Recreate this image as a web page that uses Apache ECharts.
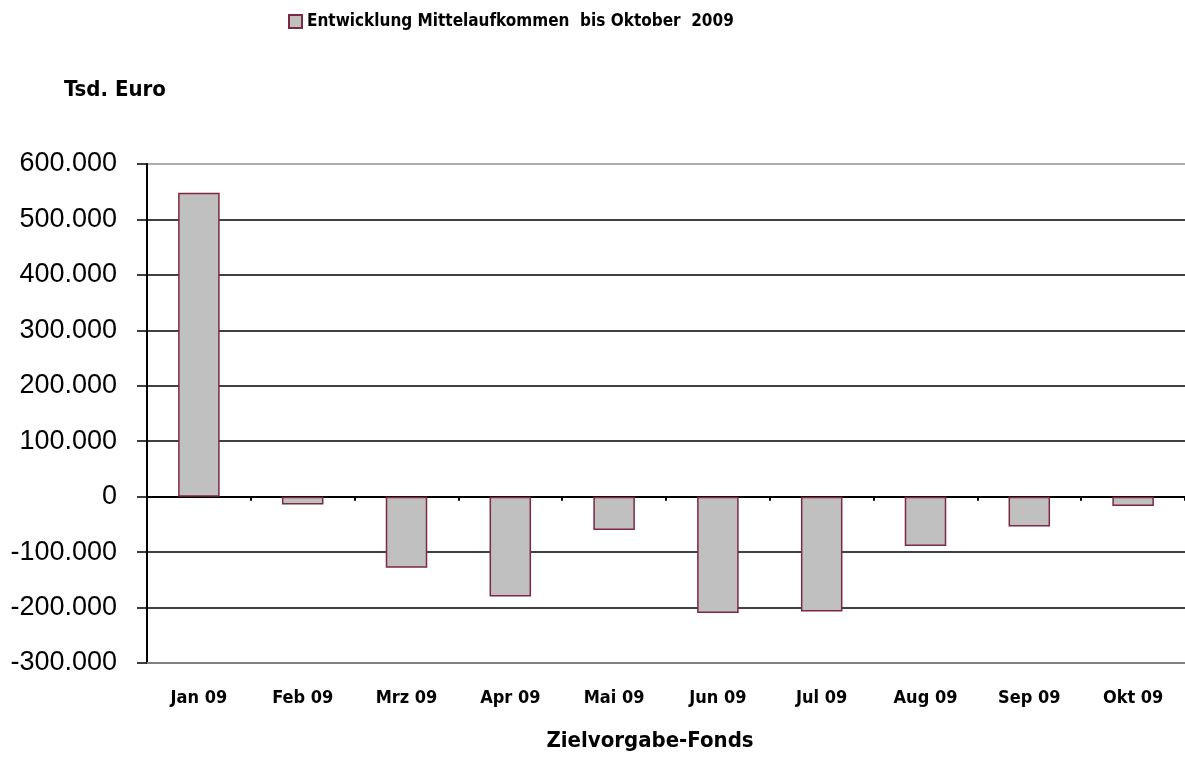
<!DOCTYPE html>
<html>
<head>
<meta charset="utf-8">
<script src="https://cdn.jsdelivr.net/npm/echarts@6/dist/echarts.min.js"></script>
<style>
  html, body { margin: 0; padding: 0; background: #fff; }
  #chart { width: 1185px; height: 765px; }
</style>
</head>
<body>
<div id="chart"></div>
<script>
// Monate und Mittelaufkommen (Tsd. Euro)
var months = ['Jan 09', 'Feb 09', 'Mrz 09', 'Apr 09', 'Mai 09', 'Jun 09', 'Jul 09', 'Aug 09', 'Sep 09', 'Okt 09'];
var values = [548000, -14000, -128000, -180000, -60000, -210000, -207000, -89000, -54000, -17000];
var seriesName = 'Entwicklung Mittelaufkommen  bis Oktober  2009';

var boldFont = "'DejaVu Sans Condensed', 'Liberation Sans', sans-serif";
var numFont = "'Liberation Sans', Arial, sans-serif";

// 600000 -> "600.000"
function fmt(v) {
	var s = String(Math.abs(v));
	s = s.replace(/\B(?=(\d{3})+(?!\d))/g, '.');
	return (v < 0 ? '-' : '') + s;
}

var chart = echarts.init(document.getElementById('chart'));

var option = {
	animation: false,
	title: [
		{
			text: 'Tsd. Euro',
			left: 64, top: 79,
			padding: 0,
			textStyle: { fontSize: 22, fontWeight: 'bold', color: '#000', fontFamily: boldFont }
		},
		{
			text: 'Zielvorgabe-Fonds',
			left: 650, top: 730,
			padding: 0,
			textAlign: 'center',
			textStyle: { fontSize: 22, fontWeight: 'bold', color: '#000', fontFamily: boldFont }
		}
	],
	legend: {
		left: 288, top: 13,
		padding: 0,
		icon: 'rect',
		itemWidth: 13, itemHeight: 13,
		textStyle: { fontSize: 17, fontWeight: 'bold', color: '#000', fontFamily: boldFont },
		data: [seriesName]
	},
	grid: { left: 147, right: 0, top: 164, bottom: 102, containLabel: false },
	xAxis: [
		{
			type: 'category',
			data: months,
			position: 'bottom',
			axisLine: { onZero: true, lineStyle: { color: '#000', width: 2 } },
			axisTick: { show: true, length: 4, lineStyle: { color: '#000', width: 2 } },
			axisLabel: { show: false },
			splitLine: { show: false }
		},
		{
			type: 'category',
			data: months,
			position: 'bottom',
			axisLine: { onZero: false, lineStyle: { color: '#808080', width: 2 } },
			axisTick: { show: false },
			axisLabel: { margin: 26, fontSize: 18, fontWeight: 'bold', color: '#000', fontFamily: boldFont },
			splitLine: { show: false }
		}
	],
	yAxis: {
		type: 'value',
		min: -300000, max: 600000, interval: 100000,
		axisLine: { show: true, lineStyle: { color: '#000', width: 2 } },
		axisTick: { show: true, length: 10, lineStyle: { color: '#000', width: 1.5 } },
		axisLabel: { margin: 30, fontSize: 27, color: '#000', fontFamily: numFont, formatter: fmt },
		splitLine: {
			show: true,
			lineStyle: {
				width: 1.5,
				color: ['#808080', '#000', '#000', '#000', '#000', '#000', '#000', '#000', '#000', '#909090']
			}
		}
	},
	series: [
		{
			name: seriesName,
			type: 'bar',
			xAxisIndex: 0,
			data: values,
			barWidth: '40%',
			itemStyle: { color: '#c0c0c0', borderColor: '#7d2940', borderWidth: 1.5 }
		}
	]
};

chart.setOption(option);
</script>
</body>
</html>
